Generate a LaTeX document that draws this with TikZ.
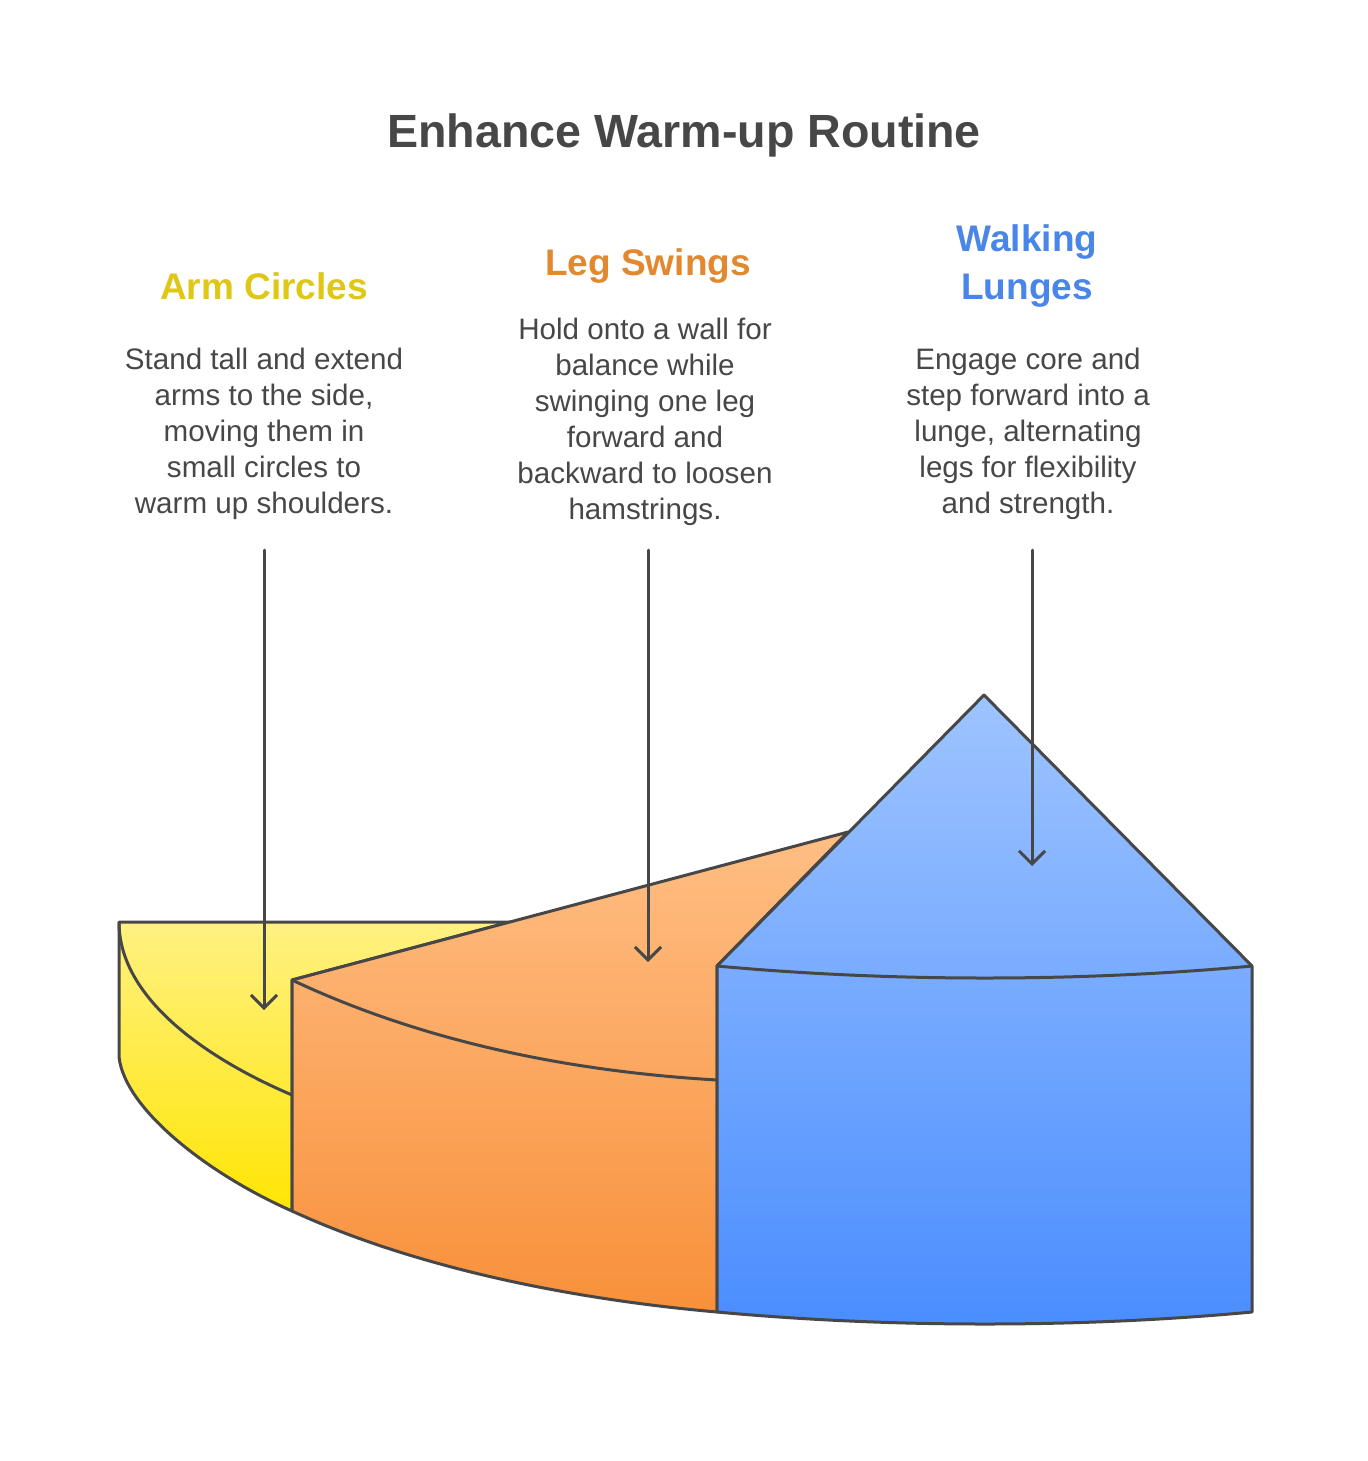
\documentclass[tikz,border=0pt]{standalone}
\usepackage{fontspec}
\setmainfont{Liberation Sans}
\usetikzlibrary{arrows.meta}
\definecolor{cinza}{HTML}{474747}
\definecolor{tam}{HTML}{DFC815}
\definecolor{tla}{HTML}{E2882F}
\definecolor{taz}{HTML}{4A86E8}
\definecolor{am1}{HTML}{FFF182}
\definecolor{am2}{HTML}{FFE504}
\definecolor{la1}{HTML}{FFBE84}
\definecolor{la2}{HTML}{F8903A}
\definecolor{az1}{HTML}{9EC4FF}
\definecolor{az2}{HTML}{4A8DFF}
\tikzset{
  tit/.style = {font=\fontsize{23.3}{28}\selectfont\bfseries, text=cinza,
    inner sep=0pt, anchor=north},
  cab/.style = {font=\fontsize{18.5}{24}\selectfont\bfseries, align=center,
    inner sep=0pt, anchor=north},
  txt/.style = {font=\fontsize{14.8}{18}\selectfont, text=cinza, align=center,
    inner sep=0pt, anchor=north},
  fat/.style = {draw=cinza, line width=1.5pt, line join=round},
  seta/.style = {-{Straight Barb[length=6.5pt,width=13pt]}, draw=cinza,
    line width=1.5pt, line cap=round}
}

\begin{document}
\begin{tikzpicture}[x=0.5pt, y=-0.5pt]
  \useasboundingbox [fill=white] (0,0) rectangle (1368,1461);

  % textos
  \node [tit] (titulo) at (684,113) {Enhance Warm-up Routine};
  \node [cab, text=tam] (harm) at (264,272) {Arm Circles};
  \node [cab, text=tla] (hleg) at (648,248) {Leg Swings};
  \node [cab, text=taz] (hwalk) at (1027,224) {Walking\\Lunges};
  \node [txt] (tarm) at (264,348) {Stand tall and extend\\arms to the side,\\moving them in\\small circles to\\warm up shoulders.};
  \node [txt] (tleg) at (645,318) {Hold onto a wall for\\balance while\\swinging one leg\\forward and\\backward to loosen\\hamstrings.};
  \node [txt] (twalk) at (1028,348) {Engage core and\\step forward into a\\lunge, alternating\\legs for flexibility\\and strength.};

  % fatias
  \filldraw [fat, top color=am1, bottom color=am2] (119,922) -- (510,922) -- (292,980)
    -- (292,1211) .. controls (210,1175) and (125,1110) .. (119,1057) -- cycle;
  \draw [fat] (119,922) .. controls (119,1000) and (210,1060) .. (292,1095);

  \filldraw [fat, top color=la1, bottom color=la2] (292,980) -- (848,832) -- (717,966)
    -- (717,1312) .. controls (580,1300) and (420,1270) .. (292,1211) -- cycle;
  \draw [fat] (292,980) .. controls (430,1045) and (580,1072) .. (717,1080);

  \filldraw [fat, top color=az1, bottom color=az2] (717,966) -- (984,695) -- (1252,966)
    -- (1252,1312) .. controls (1080,1328) and (890,1328) .. (717,1312) -- cycle;
  \draw [fat] (717,966) .. controls (890,982) and (1080,982) .. (1252,966);

  % setas
  \coordinate (sarm) at (264,550);
  \coordinate (earm) at (264,1010);
  \coordinate (sleg) at (648,550);
  \coordinate (eleg) at (648,962);
  \coordinate (swalk) at (1032,550);
  \coordinate (ewalk) at (1032,866);
  \draw [seta] (sarm) -- (earm);
  \draw [seta] (sleg) -- (eleg);
  \draw [seta] (swalk) -- (ewalk);
\end{tikzpicture}
\end{document}
